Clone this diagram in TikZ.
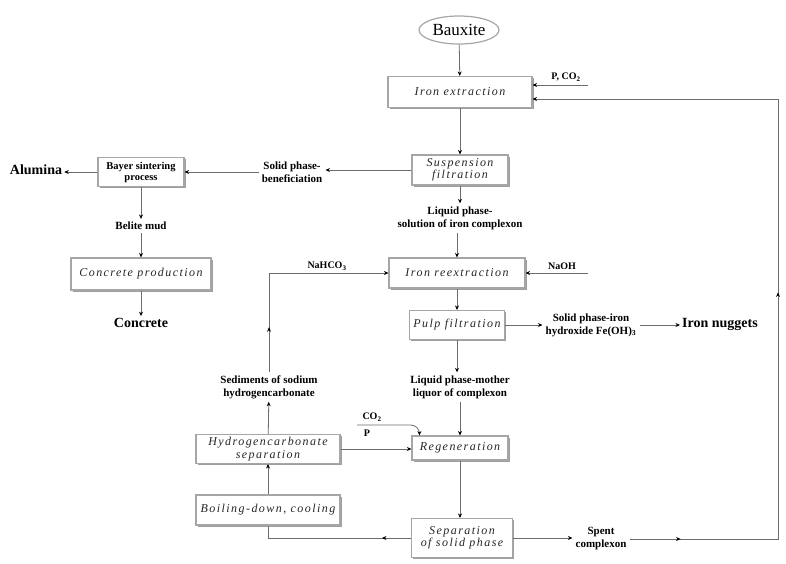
\documentclass[tikz,border=0pt]{standalone}
\usepackage{fontspec}
\setmainfont{Liberation Serif}
\newfontfamily\boxfont[LetterSpace=12]{Liberation Serif}
\usetikzlibrary{positioning,shapes.geometric,shadows,arrows.meta,decorations.markings}

\tikzset{
  hd/.tip={Stealth[length=4.5pt,width=4pt,color=black]},
  proc/.style={draw=gray!70, line width=1.1pt, fill=white,
    drop shadow={shadow xshift=1.8pt,shadow yshift=-1.8pt,fill=gray!75,opacity=1},
    font=\boxfont\itshape\fontsize{12}{12.5}\selectfont, text=black!85,
    align=center, inner sep=2pt},
  lbl/.style={font=\bfseries\fontsize{11}{13}\selectfont, align=center, inner sep=3pt},
  big/.style={font=\bfseries\fontsize{14}{16}\selectfont, inner sep=2pt},
  pipe/.style={draw=gray!85!black, line width=0.8pt},
  flow/.style={pipe, -hd},
  midarr/.style={postaction={decorate},
    decoration={markings, mark=at position #1 with {\arrow{hd}}}},
}

\begin{document}
\begin{tikzpicture}[x=1pt,y=-1pt]
  \useasboundingbox (0,0) rectangle (786,563);

  % main column
  \node[ellipse, draw=gray!70, line width=1.2pt, minimum width=80pt, minimum height=28pt,
        font=\fontsize{17}{17}\selectfont, inner sep=1pt] (bauxite) at (459,30) {Bauxite};
  \node[proc, minimum width=144pt, minimum height=31pt] (ironext) at (460,92) {Iron extraction};
  \node[proc, minimum width=96pt, minimum height=30pt] (susp) at (460,170) {Suspension\\filtration};
  \node[lbl] (liqsol) at (460,218) {Liquid phase-\\solution of iron complexon};
  \node[proc, minimum width=136pt, minimum height=30pt] (reext) at (457,273) {Iron reextraction};
  \node[proc, minimum width=95pt, minimum height=29pt] (pulp) at (457,325) {Pulp filtration};
  \node[lbl] (liqmoth) at (460,387) {Liquid phase-mother\\liquor of complexon};
  \node[proc, minimum width=96pt, minimum height=24pt] (regen) at (460,448) {Regeneration};
  \node[proc, minimum width=101pt, minimum height=39pt] (sep) at (462,538) {Separation\\of solid phase};

  % left branch
  \node[lbl] (solidben) at (292,172) {Solid phase-\\beneficiation};
  \node[proc, font=\bfseries\fontsize{10.5}{11}\selectfont, text=black,
        minimum width=86pt, minimum height=29pt] (bayer) at (141,172) {Bayer sintering\\process};
  \node[big] (alumina) at (36,170) {Alumina};
  \node[lbl] (belite) at (141,226) {Belite mud};
  \node[proc, minimum width=140pt, minimum height=32pt] (concprod) at (141,274) {Concrete production};
  \node[big] (concrete) at (141,323) {Concrete};

  % recycling
  \node[lbl] (sedim) at (269,387) {Sediments of sodium\\hydrogencarbonate};
  \node[proc, minimum width=144pt, minimum height=29pt] (hydro) at (268,449) {Hydrogencarbonate\\separation};
  \node[proc, minimum width=144pt, minimum height=30pt] (boil) at (268,510) {Boiling-down, cooling};

  % right side
  \node[lbl] (solidiron) at (591,325) {Solid phase-iron\\hydroxide Fe(OH)\textsubscript{3}};
  \node[big] (nuggets) at (720,324) {Iron nuggets};
  \node[lbl] (spent) at (601,539) {Spent\\complexon};

  % reagents
  \node[lbl, font=\bfseries\fontsize{10}{11}\selectfont] (pcolbl) at (566,77) {P, CO\textsubscript{2}};
  \node[lbl, font=\bfseries\fontsize{10}{11}\selectfont] (nahco) at (327,266) {NaHCO\textsubscript{3}};
  \node[lbl, font=\bfseries\fontsize{10}{11}\selectfont] (naohlbl) at (562,266) {NaOH};
  \node[lbl, font=\bfseries\fontsize{10}{11}\selectfont] (colbl) at (372,417) {CO\textsubscript{2}};
  \node[lbl, font=\bfseries\fontsize{10}{11}\selectfont] (plbl) at (367,433) {P};
  \coordinate (pco) at (588,85);
  \coordinate (naoh) at (588,273);
  \coordinate (co2in) at (357,425);
  \coordinate (bend) at (411,425);
  \coordinate (loopx) at (778,99);

  \draw[flow] (bauxite) -- (ironext);
  \draw[flow] (pco) -- (pco -| ironext.east);
  \draw[flow] (ironext) -- (susp);
  \draw[flow] (susp.west) -- (susp.west -| solidben.east);
  \draw[flow] (solidben.west) -- (solidben.west -| bayer.east);
  \draw[flow] (bayer.west) -- (bayer.west -| alumina.east);
  \draw[flow] (bayer) -- (belite);
  \draw[flow] (belite) -- (concprod);
  \draw[flow] (concprod) -- (concrete);
  \draw[flow] (susp) -- (liqsol);
  \draw[flow] (liqsol.south -| reext.north) -- (reext.north);
  \draw[flow, midarr=45pt] (sedim.north) -- (sedim.north |- reext.west) -- (reext.west);
  \draw[flow] (naoh) -- (naoh -| reext.east);
  \draw[flow] (reext) -- (pulp);
  \draw[flow] (pulp.east) -- (pulp.east -| solidiron.west);
  \draw[flow] (solidiron.east) -- (solidiron.east -| nuggets.west);
  \draw[flow] (pulp.south) -- (pulp.south |- liqmoth.north);
  \draw[flow] (liqmoth.south -| regen.north) -- (regen.north);
  \draw[flow] (co2in) -- (bend) to[out=0,in=90] ([xshift=8pt]regen.north west);
  \draw[flow] (hydro.east) -- (hydro.east -| regen.west);
  \draw[flow] (hydro) -- (sedim);
  \draw[flow] (boil) -- (hydro);
  \draw[flow] (regen.south) -- (regen.south |- sep.north);
  \draw[pipe, midarr=29pt] (sep.west) -| (boil.south);
  \draw[flow] (sep.east) -- (sep.east -| spent.west);
  \draw[flow, postaction={decorate}, decoration={markings,
      mark=at position 51pt with {\arrow{hd}},
      mark=at position 395pt with {\arrow{hd}}}]
    (spent.east) -| (loopx) -- (loopx -| ironext.east);

\end{tikzpicture}
\end{document}
